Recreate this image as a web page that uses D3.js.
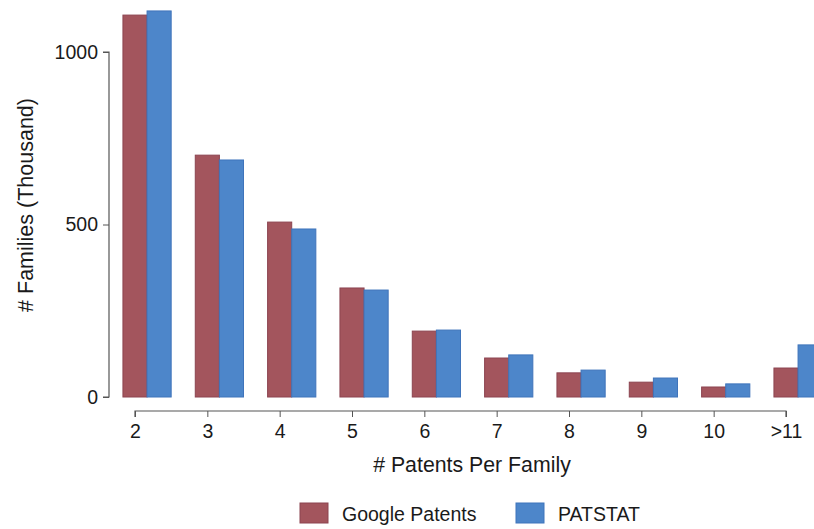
<!DOCTYPE html>
<html><head><meta charset="utf-8">
<script src="https://cdn.jsdelivr.net/npm/d3@7"></script>
<style>body{margin:0;background:#fff}svg{display:block}text{font-family:"Liberation Sans",Arial,Helvetica,sans-serif;fill:#1a1a1a}</style>
</head><body><div id="chart"></div>
<script>
const categories = ["2","3","4","5","6","7","8","9","10",">11"];
const googlePatents = [1107, 701, 507, 316, 191, 113, 70, 43, 29, 84];
const patstat = [1119, 687, 487, 310, 194, 122, 78, 55, 38, 151];
const seriesNames = ["Google Patents", "PATSTAT"];
const yTicks = [0, 500, 1000];

const W = 814, H = 529;
const svg = d3.select("#chart").append("svg").attr("width", W).attr("height", H);

const colors = {fill: ["#a3555d", "#4d86ca"], stroke: ["#8c4450", "#3f74bb"]};

const x = d3.scalePoint().domain(categories).range([135, 786]);
const step = x.step();
const y = d3.scaleLinear().domain([0, 1000]).range([397, 52]);

const barW = step / 3;
const offset = barW / 2;

const data = [googlePatents, patstat];
data.forEach((vals, si) => {
  svg.append("g").selectAll("rect").data(vals).join("rect")
    .attr("x", (d, i) => x(categories[i]) + offset - barW + si * barW)
    .attr("y", d => y(d))
    .attr("width", barW)
    .attr("height", d => y(0) - y(d))
    .attr("fill", colors.fill[si])
    .attr("stroke", colors.stroke[si])
    .attr("stroke-width", 1);
});

// Y axis
const yAxis = d3.axisLeft(y).tickValues(yTicks).tickSize(6).tickPadding(5).tickFormat(d3.format("d"));
const gy = svg.append("g").attr("transform", "translate(109,0)").call(yAxis);
gy.select(".domain").attr("d", `M-6,${y(1000)}H0V${y(0)}H-6`).attr("stroke", "#555").attr("stroke-width", 1.2);
gy.selectAll(".tick line").attr("stroke", "#555");
gy.selectAll(".tick text").style("font-size", "19.5px").attr("fill", "#1a1a1a");

// X axis
const xAxis = d3.axisBottom(x).tickSize(6).tickPadding(7);
const gx = svg.append("g").attr("transform", "translate(0,411)").call(xAxis);
gx.select(".domain").attr("d", `M${x(categories[0])},6V0H${x(categories[categories.length-1])}V6`).attr("stroke", "#555").attr("stroke-width", 1.2);
gx.selectAll(".tick line").attr("stroke", "#555");
gx.selectAll(".tick text").style("font-size", "19.5px").attr("fill", "#1a1a1a");

// Axis titles
svg.append("text").attr("x", 472).attr("y", 472).attr("text-anchor", "middle")
  .style("font-size", "21.3px").text("# Patents Per Family");
svg.append("text").attr("transform", "translate(33,205) rotate(-90)").attr("text-anchor", "middle")
  .style("font-size", "21.5px").text("# Families (Thousand)");

// Legend
const legX = [300, 516];
seriesNames.forEach((n, i) => {
  svg.append("rect").attr("x", legX[i]).attr("y", 503).attr("width", 28).attr("height", 20)
    .attr("fill", colors.fill[i]).attr("stroke", colors.stroke[i]);
  svg.append("text").attr("x", legX[i] + 42).attr("y", 521).style("font-size", "19.5px").text(n);
});
</script></body></html>
